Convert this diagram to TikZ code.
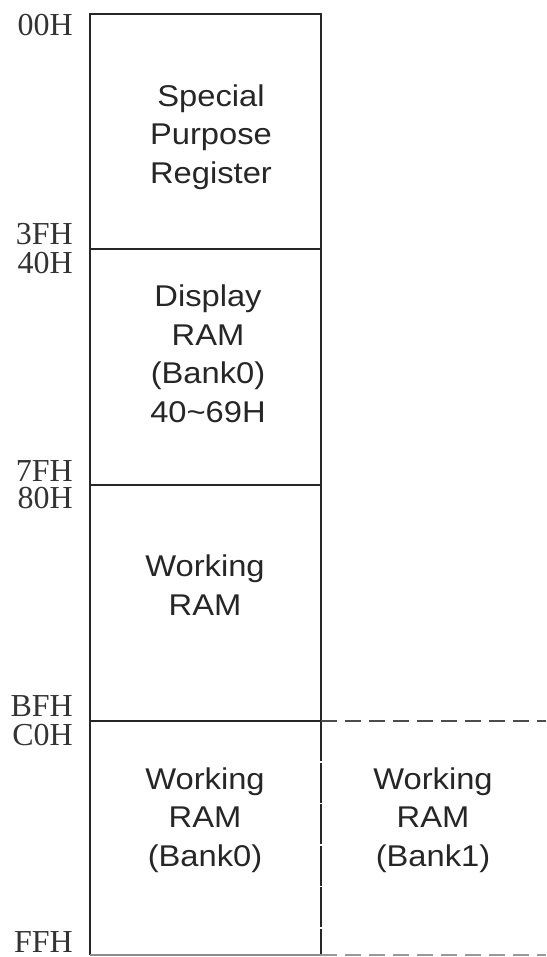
\documentclass[tikz,border=0pt]{standalone}
\usepackage{fontspec}
\setmainfont{Liberation Sans}
\newfontfamily\regionfont[FakeStretch=1.09]{Liberation Sans}
\newfontfamily\addrfont{Liberation Serif}
\begin{document}
\begin{tikzpicture}[x=1pt,y=-1pt,
  frame/.style={draw=black!85,line width=1.6pt},
  dashline/.style={draw=black!70,line width=1.6pt,dash pattern=on 16pt off 8pt},
  vdash/.style={draw=black!85,line width=1.6pt,dash pattern=on 40pt off 1.5pt},
  region/.style={align=center,font=\regionfont\fontsize{30}{38.5}\selectfont,text=black!85,inner sep=0pt},
  addr/.style={anchor=base east,font=\addrfont\fontsize{32}{32}\selectfont,text=black!80,inner sep=0pt,text height=21pt,text depth=0pt}]
\useasboundingbox (0,0) rectangle (546,957);
% frame
\coordinate (tl) at (90,14);
\coordinate (tr) at (321,14);
\coordinate (d1l) at (90,249);
\coordinate (d1r) at (321,249);
\coordinate (d2l) at (90,485);
\coordinate (d2r) at (321,485);
\coordinate (d3l) at (90,721);
\coordinate (d3r) at (321,721);
\coordinate (d3e) at (546,721);
\coordinate (bl) at (90,955);
\coordinate (br) at (321,955);
\coordinate (be) at (546,955);
\draw[frame] (bl) -- (tl) -- (tr) -- (d3r);
\draw[frame] (d1l) -- (d1r);
\draw[frame] (d2l) -- (d2r);
\draw[frame] (d3l) -- (d3r);
\draw[vdash] (d3r) -- (br);
\draw[frame,draw=black!45] (bl) -- (br);
\draw[dashline] (d3r) -- (d3e);
\draw[dashline,draw=black!40] (br) -- (be);
% region texts
\node[region] (spr) at (211,137) {Special\\Purpose\\Register};
\node[region] (disp) at (208,354) {Display\\RAM\\(Bank0)\\40\textasciitilde 69H};
\node[region] (wram) at (205,585) {Working\\RAM};
\node[region] (wb0) at (205,820) {Working\\RAM\\(Bank0)};
\node[region] (wb1) at (433,820) {Working\\RAM\\(Bank1)};
% addresses
\node[addr] (a00) at (73,36) {00H};
\node[addr] (a3f) at (73,245) {3FH};
\node[addr] (a40) at (73,273) {40H};
\node[addr] (a7f) at (73,481) {7FH};
\node[addr] (a80) at (73,508) {80H};
\node[addr] (abf) at (73,716) {BFH};
\node[addr] (ac0) at (73,745) {C0H};
\node[addr] (aff) at (73,952) {FFH};
\end{tikzpicture}
\end{document}
